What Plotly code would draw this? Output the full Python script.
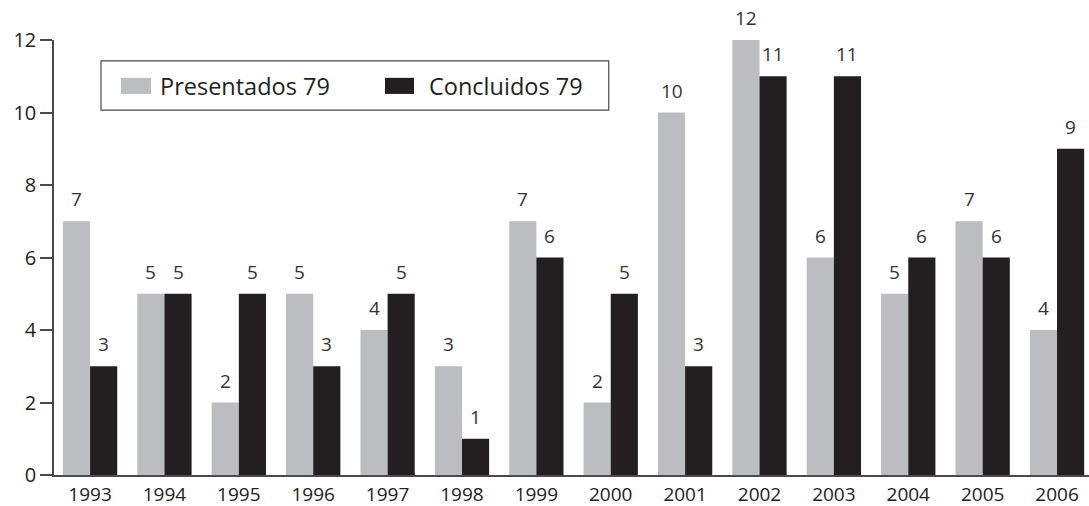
import plotly.graph_objects as go

years = ["1993", "1994", "1995", "1996", "1997", "1998", "1999",
         "2000", "2001", "2002", "2003", "2004", "2005", "2006"]
presentados = [7, 5, 2, 5, 4, 3, 7, 2, 10, 12, 6, 5, 7, 4]
concluidos = [3, 5, 5, 3, 5, 1, 6, 5, 3, 11, 11, 6, 6, 9]
legend_labels = ["Presentados 79", "Concluidos 79"]
y_ticks = [0, 2, 4, 6, 8, 10, 12]

GRAY = "#bcbdc0"
BLACK = "#231f20"
AXIS = "#4a4a4a"
FONT = "Open Sans, Noto Sans, sans-serif"
LABEL_FONT = "Open Sans, Noto Sans, sans-serif"

fig = go.Figure()
fig.add_trace(go.Bar(x=years, y=presentados, marker=dict(color=GRAY, line=dict(width=0)),
                     name=legend_labels[0], showlegend=False, hoverinfo="skip"))
fig.add_trace(go.Bar(x=years, y=concluidos, marker=dict(color=BLACK, line=dict(width=0)),
                     name=legend_labels[1], showlegend=False, hoverinfo="skip"))

annotations = []
for i, v in enumerate(presentados):
    annotations.append(dict(x=i, y=v, xref="x", yref="y", text=str(v), showarrow=False,
                            xshift=-13.6, yshift=22, yanchor="middle",
                            font=dict(family=LABEL_FONT, size=19, color="#333333")))
for i, v in enumerate(concluidos):
    annotations.append(dict(x=i, y=v, xref="x", yref="y", text=str(v), showarrow=False,
                            xshift=13.6, yshift=22, yanchor="middle",
                            font=dict(family=LABEL_FONT, size=19, color="#333333")))

# Manual legend (box, swatches, text)
shapes = [
    dict(type="rect", xref="paper", yref="paper", x0=0.0454, x1=0.536, y0=0.839, y1=0.952,
         line=dict(color=AXIS, width=1.2), fillcolor="white", layer="above"),
    dict(type="rect", xref="paper", yref="paper", x0=0.0647, x1=0.0937, y0=0.876, y1=0.913,
         line=dict(width=0), fillcolor=GRAY, layer="above"),
    dict(type="rect", xref="paper", yref="paper", x0=0.3198, x1=0.3478, y0=0.876, y1=0.913,
         line=dict(width=0), fillcolor=BLACK, layer="above"),
]
annotations.append(dict(x=0.1, y=0.8945, xref="paper", yref="paper", text=legend_labels[0],
                        showarrow=False, xanchor="left", yanchor="middle",
                        font=dict(family=FONT, size=23.5, color=BLACK)))
annotations.append(dict(x=0.3605, y=0.8945, xref="paper", yref="paper", text=legend_labels[1],
                        showarrow=False, xanchor="left", yanchor="middle",
                        font=dict(family=FONT, size=23.5, color=BLACK)))

fig.update_layout(
    width=1089, height=506,
    margin=dict(l=54, r=0, t=40, b=31),
    paper_bgcolor="white", plot_bgcolor="white",
    barmode="group", bargap=0.27, bargroupgap=0,
    font=dict(family=FONT, size=20, color="#222222"),
    annotations=annotations, shapes=shapes,
    showlegend=False, hovermode=False,
)
fig.update_xaxes(type="category", range=[-0.485, 13.43], showline=True, linecolor=AXIS,
                 linewidth=1.5, ticks="", showgrid=False, zeroline=False, automargin=False,
                 tickfont=dict(family=FONT, size=19, color="#222222"), ticklabelstandoff=1)
fig.update_yaxes(range=[0, 12], tickvals=y_ticks, showline=True, linecolor=AXIS, linewidth=1.5,
                 ticks="outside", ticklen=12, tickcolor=AXIS, tickwidth=1.5, showgrid=False,
                 zeroline=False, automargin=False,
                 tickfont=dict(family=FONT, size=20, color="#222222"))

fig.write_html("out.html", config={"displayModeBar": False},
               post_script="document.body.style.margin='0';document.body.style.overflow='hidden';")
